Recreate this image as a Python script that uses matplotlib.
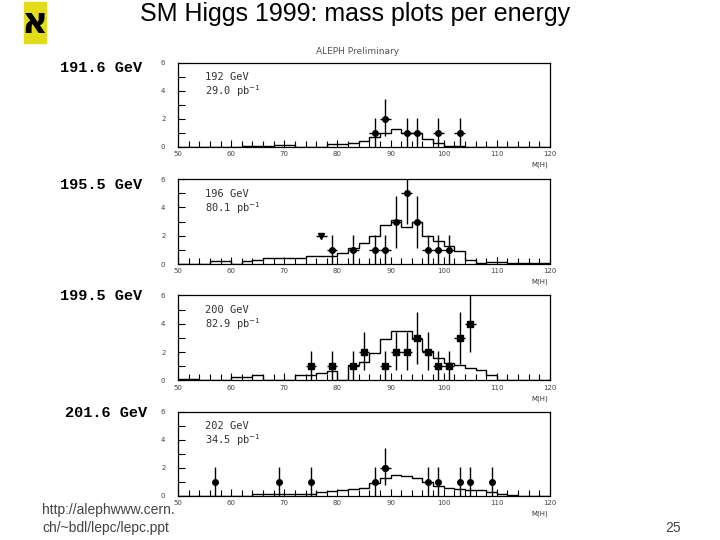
import numpy as np
import matplotlib.pyplot as plt
from matplotlib.patches import Rectangle

# 2 GeV bins from 50 to 120
edges = np.arange(50, 122, 2)

# MC expectation (histogram)
hist_192 = [0, 0, 0, 0, 0, 0, 0.07, 0.07, 0.07, 0.14, 0.14, 0.02, 0.02, 0.02, 0.2, 0.2,
            0.3, 0.45, 0.7, 1.0, 1.25, 1.0, 1.0, 0.55, 0.28, 0.1, 0.05,
            0, 0, 0, 0, 0, 0, 0, 0]
hist_196 = [0, 0, 0, 0.2, 0.2, 0, 0.2, 0.3, 0.4, 0.4, 0.45, 0.45, 0.55, 0.55,
            0.6, 0.8, 1.1, 1.5, 2.0, 2.75, 3.1, 2.6, 3.0, 2.0, 1.65, 1.3, 0.9, 0.3, 0.05,
            0.13, 0.13, 0.08, 0.08, 0.08, 0.08]
hist_200 = [0.08, 0.08, 0, 0, 0, 0.25, 0.25, 0.37, 0, 0, 0, 0.42, 0.42,
            0.55, 0.65, 0, 1.07, 1.3, 1.95, 2.9, 3.5, 3.5,
            2.9, 2.08, 1.57, 1.26, 1.09, 0.9, 0.74, 0.37, 0, 0, 0, 0, 0]
hist_202 = [0, 0, 0, 0, 0, 0, 0, 0.1, 0.15, 0.15, 0.15, 0.15, 0.15,
            0.26, 0.32, 0.4, 0.5, 0.57, 0.9, 1.3, 1.45, 1.4, 1.24, 0.95, 0.69, 0.55,
            0.45, 0.42, 0.4, 0.24, 0.1, 0.03, 0, 0, 0]

# data candidates
x_192 = [87, 89, 93, 95, 99, 103]
n_192 = [1, 2, 1, 1, 1, 1]
x_196 = [79, 83, 87, 89, 91, 93, 95, 97, 99, 101]
n_196 = [1, 1, 1, 1, 3, 5, 3, 1, 1, 1]
x_200 = [75, 79, 83, 85, 89, 91, 93, 95, 97, 99, 101, 103, 105]
n_200 = [1, 1, 1, 2, 1, 2, 2, 3, 2, 1, 1, 3, 4]
x_202 = [57, 69, 75, 87, 89, 97, 99, 103, 105, 109]
n_202 = [1, 1, 1, 1, 2, 1, 1, 1, 1, 1]
tri_x = [77]   # odd marker in the 196 GeV plot
tri_y = [2]

# error bar lengths read per count
err_lo = {1: 1.0, 2: 1.25, 3: 1.85, 4: 2.0, 5: 2.2}
err_hi = {1: 1.05, 2: 1.4, 3: 1.8, 4: 2.2, 5: 2.5}

energies = ["191.6 GeV", "195.5 GeV", "199.5 GeV", "201.6 GeV"]
tags = ["192 GeV", "196 GeV", "200 GeV", "202 GeV"]
lumis = ["29.0", "80.1", "82.9", "34.5"]

hists = [hist_192, hist_196, hist_200, hist_202]
xs = [x_192, x_196, x_200, x_202]
ns = [n_192, n_196, n_200, n_202]
markers = ["o", "o", "s", "o"]

fig = plt.figure(figsize=(7.2, 5.4), dpi=100)

# panel positions [bottom, height] in figure fraction
boxes = [(0.7278, 0.1556), (0.5111, 0.1574), (0.2954, 0.1574), (0.0820, 0.1556)]
label_y = [68, 185, 296, 413]
label_x = [60, 60, 60, 65]

for i in range(4):
    b, h = boxes[i]
    ax = fig.add_axes([0.2472, b, 0.5167, h])
    ax.stairs(hists[i], edges, color="black", lw=1.0, baseline=None)
    lo = [err_lo[k] for k in ns[i]]
    hi = [err_hi[k] for k in ns[i]]
    xe = 1 if i < 3 else 0
    ax.errorbar(xs[i], ns[i], yerr=[lo, hi], xerr=xe, fmt=markers[i], color="black",
                ms=4, elinewidth=1, capsize=0)
    if i == 3:
        ax.errorbar([89], [2], xerr=1, fmt="o", color="black", ms=4, elinewidth=1)
    if i == 1:
        ax.errorbar(tri_x, tri_y, xerr=1, fmt="v", color="black", ms=4, elinewidth=1)

    ax.set_xlim(50, 120)
    ax.set_ylim(0, 6)
    ax.set_xticks(range(50, 121, 10))
    ax.set_xticks(range(50, 121, 2), minor=True)
    ax.set_yticks([0, 2, 4, 6])
    ax.set_yticks([1, 3, 5], minor=True)
    ax.tick_params(which="both", direction="in", labelsize=5, labelcolor="#444",
                   width=0.8, pad=3)
    ax.tick_params(which="major", length=5)
    ax.tick_params(which="minor", length=4)
    ax.tick_params(axis="y", which="both", length=5, pad=9)
    for s in ax.spines.values():
        s.set_linewidth(0.9)

    ax.text(55.0, 4.75, tags[i], fontsize=7.5, family="DejaVu Sans Mono", color="#333")
    ax.text(55.0, 3.7, lumis[i] + " pb$^{-1}$", fontsize=7.5, family="DejaVu Sans Mono",
            color="#333")
    ax.text(118, -1.05, "M(H)", fontsize=5, color="#333", ha="center", va="top")

    fig.text(label_x[i] / 720, 1 - label_y[i] / 540, energies[i], fontsize=11,
             family="Liberation Mono", weight="bold", va="center")

fig.text(0.497, 1 - 51 / 540, "ALEPH Preliminary", fontsize=6.5, color="#555",
         ha="center", va="center")

fig.text(355 / 720, 1 - 14 / 540, "SM Higgs 1999: mass plots per energy", fontsize=18,
         family="Liberation Sans", ha="center", va="center")

# experiment logo
fig.patches.append(Rectangle((24 / 720, 1 - 43 / 540), 22 / 720, 41 / 540,
                             transform=fig.transFigure, color="#e2dc1a"))
fig.text(35 / 720, 1 - 23 / 540, "\u05d0", fontsize=26, weight="bold",
         family=["DejaVu Sans"], ha="center", va="center")

fig.text(42 / 720, 1 - 510 / 540, "http://alephwww.cern.", fontsize=10,
         family="Liberation Sans", color="#444", va="center")
fig.text(42 / 720, 1 - 528 / 540, "ch/~bdl/lepc/lepc.ppt", fontsize=10,
         family="Liberation Sans", color="#444", va="center")
fig.text(665 / 720, 1 - 528 / 540, "25", fontsize=10, family="Liberation Sans",
         color="#444", va="center")

fig.savefig("out.png", dpi=100)
